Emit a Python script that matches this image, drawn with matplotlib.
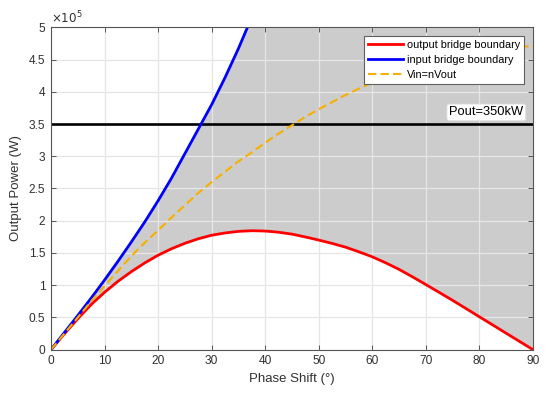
import numpy as np
import matplotlib
matplotlib.use("Agg")
import matplotlib.pyplot as plt

plt.rcParams['font.family'] = ['Liberation Sans', 'DejaVu Sans']

# Data (power in units of 1e5 W)
red_x = [0, 2.5, 5, 7.5, 10, 12.5, 15, 17.5, 20, 22.5, 25, 27.5, 30, 32.5, 35, 37.5, 40, 42.5, 45,
         47.5, 50, 52.5, 55, 57.5, 60, 62.5, 65, 67.5, 70, 72.5, 75, 77.5, 80, 82.5, 85, 87.5, 90]
red_y = [0, 0.245, 0.48, 0.70, 0.89, 1.06, 1.21, 1.345, 1.465, 1.565, 1.65, 1.72, 1.775, 1.81, 1.835,
         1.845, 1.84, 1.822, 1.792, 1.748, 1.70, 1.648, 1.59, 1.518, 1.44, 1.347, 1.245, 1.13, 1.01,
         0.888, 0.765, 0.638, 0.51, 0.383, 0.255, 0.128, 0]

blue_x = [0, 2.5, 5, 7.5, 10, 12.5, 15, 17.5, 20, 22.5, 25, 27.5, 30, 32.5, 35, 37]
blue_y = [0, 0.265, 0.53, 0.80, 1.08, 1.37, 1.67, 1.98, 2.31, 2.66, 3.04, 3.42, 3.80, 4.22, 4.67, 5.06]

orange_x = [0, 2.5, 5, 7.5, 10, 12.5, 15, 17.5, 20, 22.5, 25, 27.5, 30, 32.5, 35, 37.5, 40, 42.5,
            45, 47.5, 50, 52.5, 55, 57.5, 60, 65, 70, 75, 80, 85, 90]
orange_y = [0, 0.25, 0.50, 0.75, 0.99, 1.22, 1.45, 1.66, 1.85, 2.05, 2.24, 2.43, 2.60, 2.76, 2.92,
            3.06, 3.21, 3.35, 3.48, 3.61, 3.73, 3.84, 3.95, 4.05, 4.14, 4.30, 4.43, 4.54, 4.62,
            4.68, 4.71]

pout = 3.5
pout_label = 'Pout=350kW'
labels = ['output bridge boundary', 'input bridge boundary', 'Vin=nVout']
xticks = [0, 10, 20, 30, 40, 50, 60, 70, 80, 90]
yticks = [0, 0.5, 1, 1.5, 2, 2.5, 3, 3.5, 4, 4.5, 5]

fig = plt.figure(figsize=(5.5, 3.99), dpi=100)
ax = fig.add_axes([0.0927, 0.1236, 0.969 - 0.0927, 0.9316 - 0.1236])

# shaded region between output-bridge boundary and input-bridge boundary
xf = np.linspace(0, 90, 901)
lower = np.interp(xf, red_x, red_y)
upper = np.minimum(np.interp(xf, blue_x, blue_y, right=np.inf), 5)
ax.fill_between(xf, lower, upper, where=upper >= lower, color='#cccccc', lw=0, zorder=0.2)

ax.set_axisbelow(True)
ax.grid(True, color='#e6e6e6', lw=0.9)

ax.axhline(pout, color='black', lw=1.9, zorder=2)
l1, = ax.plot(red_x, red_y, color='#ff0000', lw=2.0, zorder=3, label=labels[0])
l2, = ax.plot(blue_x, blue_y, color='#0000ff', lw=2.0, zorder=3.5, label=labels[1])
l3, = ax.plot(orange_x, orange_y, color='#f7b000', lw=1.5, dashes=(4, 2), zorder=4, label=labels[2])

ax.set_xlim(0, 90)
ax.set_ylim(0, 5)
ax.set_xticks(xticks)
ax.set_yticks(yticks)
ax.set_yticklabels([f'{v:g}' for v in yticks])

for s in ax.spines.values():
    s.set_color('#555555')
    s.set_linewidth(0.8)
    s.set_zorder(5)
ax.tick_params(direction='in', length=3.5, width=0.7, color='#555555', labelsize=8.6,
               labelcolor='#303030', top=True, right=True)
ax.tick_params(axis='x', pad=4)
ax.tick_params(axis='y', pad=4)

ax.set_xlabel('Phase Shift (°)', fontsize=9.5, color='#303030', labelpad=4)
ax.set_ylabel('Output Power (W)', fontsize=9.5, color='#303030', labelpad=5)

ax.text(0.0, 1.004, r'$\times10^5$', transform=ax.transAxes, fontsize=8.6, color='#303030',
        ha='left', va='bottom')

ax.text(81.3, 3.68, pout_label, fontsize=9.3, color='black', ha='center', va='center', zorder=7,
        bbox=dict(boxstyle='round,pad=0.18', fc='white', ec='#e0e0e0', lw=0.6))

leg = ax.legend(handles=[l1, l2, l3], loc='upper right', fontsize=7.8, frameon=True,
                fancybox=False, framealpha=1, edgecolor='#606060', handlelength=3.3,
                handletextpad=0.3, labelspacing=0.45, borderpad=0.35, borderaxespad=0.85)
leg.get_frame().set_linewidth(0.8)
leg.set_zorder(8)

fig.savefig('out.png', dpi=100)
